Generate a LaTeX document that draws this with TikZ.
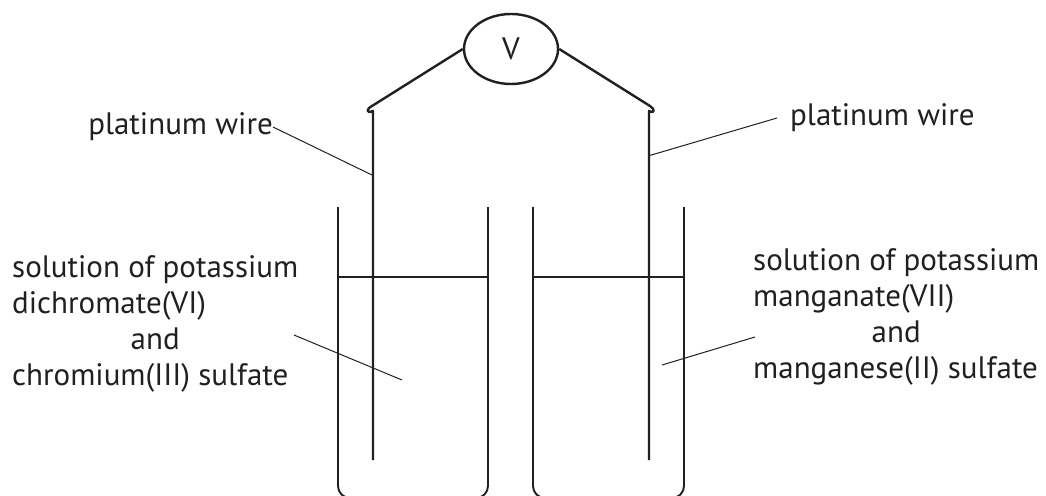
\documentclass[tikz,border=0pt]{standalone}
\usepackage{fontspec}
\setmainfont{PT Sans}
\usetikzlibrary{shapes.geometric}
\definecolor{ink}{HTML}{231F20}
\begin{document}
\begin{tikzpicture}[x=1pt,y=-1pt,
  wire/.style={draw=ink,line width=2.4pt},
  glass/.style={draw=ink,line width=1.9pt,rounded corners=12pt},
  leader/.style={draw=ink,line width=1pt},
  lbl/.style={text=ink,font=\fontsize{31}{36}\selectfont,inner sep=0pt}]
\useasboundingbox (0,0) rectangle (1046,495);
\clip (0,0) rectangle (1046,495);
% voltmeter
\node[ellipse,draw=ink,line width=2.4pt,minimum width=94pt,minimum height=70pt,inner sep=0pt,text=ink,font=\fontsize{31}{31}\selectfont] (V) at (511,49) {V};
% wires
\coordinate (hL) at (372,106);
\coordinate (wLtop) at (373,111);
\coordinate (wLbot) at (373,460);
\coordinate (hR) at (650,106);
\coordinate (wRtop) at (649,111);
\coordinate (wRbot) at (649,460);
\draw[wire,line join=round] (V.west) -- (hL) .. controls (366,109) and (366,114) .. (wLtop) -- (wLbot);
\draw[wire,line join=round] (V.east) -- (hR) .. controls (655,109) and (655,114) .. (wRtop) -- (wRbot);
% beakers
\draw[glass] (338,207) -- (338,498) -- (488,498) -- (488,207);
\draw[glass] (533,207) -- (533,498) -- (684,498) -- (684,207);
\draw[draw=ink,line width=1.9pt] (338,277) -- (488,277);
\draw[draw=ink,line width=1.9pt] (533,277) -- (684,277);
% labels
\node[lbl,anchor=east] (pL) at (273,127) {platinum wire};
\coordinate (pLend) at (372,175);
\draw[leader] (pL.east) -- (pLend);
\node[lbl,anchor=west] (pR) at (790,118) {platinum wire};
\coordinate (pRend) at (648,156);
\draw[leader] ([xshift=-13pt]pR.west) -- (pRend);
\node[lbl,anchor=north west] (sL) at (12,252) {\begin{tabular}{@{}l@{}}solution of potassium\\dichromate(VI)\\\multicolumn{1}{@{}c@{}}{and}\\chromium(III) sulfate\end{tabular}};
\coordinate (sLa) at (294,335);
\coordinate (sLend) at (402,380);
\draw[leader] (sLa) -- (sLend);
\node[lbl,anchor=north west] (sR) at (753,245) {\begin{tabular}{@{}l@{}}solution of potassium\\manganate(VII)\\\multicolumn{1}{@{}c@{}}{and}\\manganese(II) sulfate\end{tabular}};
\coordinate (sRa) at (755,337);
\coordinate (sRend) at (662,365);
\draw[leader] (sRa) -- (sRend);
\end{tikzpicture}
\end{document}
